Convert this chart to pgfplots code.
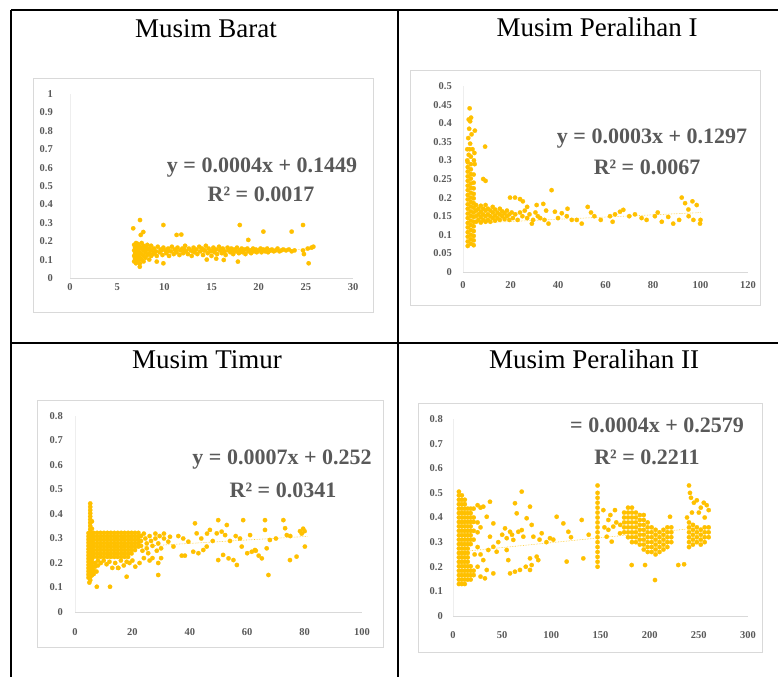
\documentclass[border=0pt]{standalone}
\usepackage{fontspec}
\setmainfont{Liberation Serif}
\usepackage{pgfplots}
\pgfplotsset{compat=1.18}

\definecolor{gold}{HTML}{FFC000}
\definecolor{lbl}{HTML}{595959}
\definecolor{frm}{HTML}{D9D9D9}

\pgfplotsset{
  panel/.style={
    scale only axis, anchor=south west, clip=false,
    enlargelimits=false, ymin=0,
    axis x line*=bottom, axis y line*=left,
    x axis line style={-, draw=frm, line width=0.7pt},
    y axis line style={-, draw=frm!45, line width=0.5pt},
    major tick length=0pt,
    tick label style={font=\fontsize{10.5}{11}\selectfont\bfseries, text=lbl},
    /pgf/number format/assume math mode=true,
    yticklabel style={/pgf/number format/fixed, /pgf/number format/precision=2, anchor=east, inner sep=0pt},
    xticklabel style={anchor=center, inner sep=0pt},
  },
  pts/.style={only marks, mark=*, mark size=2.2pt, color=gold, mark options={fill=gold, draw=gold, line width=0.2pt}},
  trend/.style={no marks, gold!85!white, densely dotted, line width=0.6pt},
}
\newcommand{\eqfont}{\fontsize{22}{24}\selectfont\bfseries\color{lbl}}
\newcommand{\ttfont}{\fontsize{27}{29}\selectfont}

\begin{document}
\begin{tikzpicture}
\useasboundingbox (0pt,0pt) rectangle (778pt,677pt);

\begin{scope}[x=1pt,y=1pt]
% chart frames
\draw[frm, line width=0.8pt] (33,599) rectangle (373,365);
\draw[frm, line width=0.8pt] (410,607) rectangle (760,372);
\draw[frm, line width=0.8pt] (37,277) rectangle (383,30);
\draw[frm, line width=0.8pt] (418,274) rectangle (762,25);
\end{scope}

% Musim Barat
\begin{axis}[panel, at={(70pt,399pt)}, width=283pt, height=184pt,
  xmin=0, xmax=30, ymax=1, xtick={0,5,...,30}, ytick={0,0.1,...,1},
  yticklabel style={xshift=-17pt}, xticklabel style={yshift=-9pt}]
\addplot[pts] coordinates {
(6.8,0.09)(6.8,0.12)(6.8,0.15)(6.8,0.18)(6.9,0.105)(6.9,0.135)(6.9,0.165)(7.0,0.08)(7.0,0.11)(7.0,0.14)(7.0,0.17)(7.0,0.19)
(7.2,0.095)(7.2,0.125)(7.2,0.155)(7.2,0.185)(7.4,0.08)(7.4,0.11)(7.4,0.14)(7.4,0.17)(7.6,0.1)(7.6,0.13)(7.6,0.16)(7.6,0.19)
(7.8,0.09)(7.8,0.12)(7.8,0.15)(7.8,0.175)(8.0,0.11)(8.0,0.14)(8.0,0.165)(8.2,0.125)(8.2,0.155)(8.2,0.18)(8.4,0.1)(8.4,0.135)
(8.4,0.16)(8.6,0.12)(8.6,0.15)(8.6,0.175)
(8.8,0.13)(8.9,0.16)(9.1,0.145)(9.2,0.12)(9.3,0.17)(9.5,0.14)(9.6,0.155)(9.8,0.125)(9.9,0.165)(10.1,0.15)(10.2,0.135)
(10.4,0.16)(10.5,0.12)(10.7,0.145)(10.8,0.17)(11.0,0.13)(11.1,0.155)(11.3,0.14)(11.4,0.165)(11.6,0.125)(11.7,0.15)(11.9,0.16)
(12.0,0.135)(12.2,0.175)(12.3,0.145)(12.5,0.13)(12.6,0.16)(12.8,0.15)(12.9,0.12)(13.1,0.165)(13.2,0.14)(13.4,0.155)(13.5,0.13)
(13.7,0.17)(13.8,0.145)(14.0,0.16)(14.1,0.125)(14.3,0.15)(14.4,0.175)(14.6,0.135)(14.7,0.16)(14.9,0.145)(15.0,0.12)(15.2,0.165)
(15.3,0.14)(15.5,0.155)(15.6,0.13)(15.8,0.17)(15.9,0.15)(16.1,0.135)(16.2,0.16)(16.4,0.145)(16.5,0.125)(16.7,0.165)(16.8,0.15)
(17.0,0.14)(17.1,0.16)(17.3,0.13)(17.4,0.155)(17.6,0.145)(17.7,0.165)(17.9,0.135)(18.0,0.15)(18.2,0.16)(18.3,0.14)(18.5,0.155)
(18.6,0.13)(18.8,0.16)(18.9,0.145)(19.1,0.15)(19.2,0.135)(19.4,0.16)(19.5,0.145)(19.7,0.155)(19.8,0.14)(20.0,0.15)(20.2,0.16)
(20.3,0.14)(20.5,0.155)(20.7,0.145)(20.9,0.16)(21.0,0.14)(21.2,0.15)(21.4,0.155)(21.6,0.145)(21.8,0.15)(22.0,0.16)(22.2,0.145)
(22.4,0.15)(22.6,0.155)(22.9,0.15)(23.2,0.155)(23.5,0.145)(23.8,0.15)(24.7,0.15)(25.2,0.16)(25.6,0.165)(25.8,0.17)(24.8,0.13)
(9.0,0.14)(9.7,0.15)(10.3,0.145)(11.2,0.15)(12.1,0.155)(13.0,0.145)(14.2,0.15)(15.1,0.15)(16.0,0.155)(17.2,0.15)(18.4,0.15)
(19.3,0.15)(20.4,0.15)(21.3,0.15)
(7.42,0.315)(6.7,0.27)(7.77,0.25)(7.5,0.234)(9.9,0.288)(11.3,0.234)(11.8,0.236)(18.0,0.288)(20.5,0.252)(23.5,0.252)
(24.7,0.288)(18.9,0.207)(25.3,0.08)(17.8,0.089)(16.3,0.098)(9.2,0.089)(9.9,0.08)(7.4,0.061)(14.5,0.1)(15.5,0.105)
};
\addplot[trend] coordinates {(6.7,0.1476)(25.8,0.1552)};
\end{axis}

% Musim Peralihan I
\begin{axis}[panel, at={(463pt,405pt)}, width=285pt, height=186pt,
  xmin=0, xmax=120, ymax=0.5, xtick={0,20,...,120}, ytick={0,0.05,...,0.5},
  yticklabel style={xshift=-11pt}, xticklabel style={yshift=-13pt}]
\addplot[pts] coordinates {
(2.0,0.07)(2.0,0.082)(2.0,0.095)(2.0,0.107)(2.0,0.12)(2.0,0.132)(2.0,0.145)(2.0,0.157)(2.0,0.17)(2.0,0.182)(2.0,0.195)
(2.0,0.207)(2.0,0.22)(2.0,0.232)(2.0,0.245)(2.0,0.257)(2.0,0.27)(2.0,0.282)(2.0,0.295)
(3.3,0.076)(3.3,0.088)(3.3,0.1)(3.3,0.113)(3.3,0.126)(3.3,0.138)(3.3,0.151)(3.3,0.163)(3.3,0.176)(3.3,0.188)(3.3,0.2)
(3.3,0.213)(3.3,0.226)(3.3,0.238)(3.3,0.251)(3.3,0.263)(3.3,0.276)(3.3,0.29)(3.3,0.31)
(4.5,0.072)(4.5,0.085)(4.5,0.097)(4.5,0.11)(4.5,0.123)(4.5,0.135)(4.5,0.148)(4.5,0.16)(4.5,0.173)(4.5,0.185)(4.5,0.198)
(4.5,0.21)(4.5,0.225)(4.5,0.24)(4.5,0.262)
(2.4,0.315)(2.8,0.33)(3.0,0.345)(2.2,0.36)(3.6,0.37)(2.6,0.385)(3.0,0.405)(2.4,0.41)(3.4,0.415)(2.8,0.44)(4.0,0.33)
(4.6,0.3)(5.0,0.38)(4.8,0.32)(4.9,0.29)(9.3,0.337)(8.5,0.25)(9.5,0.245)(1.8,0.33)(1.8,0.3)
(5.5,0.135)(5.5,0.15)(5.5,0.165)(5.5,0.18)(6.5,0.14)(6.5,0.155)(6.5,0.17)(7.5,0.133)(7.5,0.148)(7.5,0.162)(7.5,0.178)
(8.5,0.14)(8.5,0.155)(8.5,0.17)(9.5,0.135)(9.5,0.15)(9.5,0.165)(9.5,0.18)(10.5,0.14)(10.5,0.155)(10.5,0.17)(11.5,0.135)
(11.5,0.15)(11.5,0.165)(12.5,0.145)(12.5,0.16)(12.5,0.175)(13.5,0.138)(13.5,0.152)(13.5,0.168)(14.5,0.145)(14.5,0.16)
(15.5,0.14)(15.5,0.155)(15.5,0.17)(16.5,0.15)(16.5,0.163)(17.5,0.142)(17.5,0.158)(18.5,0.15)(18.5,0.165)(19.5,0.14)
(19.5,0.155)(20.5,0.16)(21,0.145)(22,0.155)(23,0.14)(24,0.16)(25,0.15)(26,0.165)(27,0.145)(28,0.155)(29.5,0.14)
(30.5,0.16)(31.5,0.15)(32.5,0.145)
(37.3,0.22)(19.8,0.2)(21.9,0.2)(24,0.196)(25.2,0.19)(31,0.18)(33.8,0.183)(34.3,0.14)(38.7,0.162)(41.6,0.158)(43.7,0.15)
(45.8,0.14)(47.9,0.14)(50,0.13)(52.5,0.175)(53.9,0.16)(55.3,0.15)(61.9,0.15)(64,0.155)(66.1,0.162)(67.5,0.167)(72.4,0.155)
(75.2,0.145)(77.3,0.14)(80.8,0.15)(83.7,0.135)(86.4,0.148)(88.5,0.13)(92.1,0.2)(93.5,0.185)(94.9,0.168)(96.6,0.19)
(98.4,0.18)(99.8,0.13)(97,0.14)(100,0.14)(36,0.13)(40,0.145)(44,0.17)(58,0.14)(63,0.135)(70,0.15)(82,0.16)(91,0.14)
(95,0.15)(27,0.175)(29,0.13)(35,0.165)
};
\addplot[trend] coordinates {(1.5,0.1302)(100,0.1597)};
\end{axis}

% Musim Timur
\begin{axis}[panel, at={(75pt,65pt)}, width=287pt, height=196pt,
  xmin=0, xmax=100, ymax=0.8, xtick={0,20,...,100}, ytick={0,0.1,...,0.8},
  yticklabel style={xshift=-12pt}, xticklabel style={yshift=-20pt}]
\addplot[pts] coordinates {
(4.7,0.14)(4.7,0.153)(4.7,0.166)(4.7,0.179)(4.7,0.192)(4.7,0.205)(4.7,0.218)(4.7,0.231)(4.7,0.244)(4.7,0.257)(4.7,0.27)
(4.7,0.283)(4.7,0.296)(4.7,0.309)(4.7,0.322)
(5.3,0.13)(5.3,0.143)(5.3,0.156)(5.3,0.169)(5.3,0.182)(5.3,0.195)(5.3,0.208)(5.3,0.221)(5.3,0.234)(5.3,0.247)(5.3,0.26)
(5.3,0.273)(5.3,0.286)(5.3,0.299)(5.3,0.312)(5.3,0.325)(5.3,0.338)(5.3,0.351)(5.3,0.364)(5.3,0.377)(5.3,0.39)(5.3,0.403)
(5.3,0.416)(5.3,0.429)(5.3,0.443)
(5.9,0.15)(5.9,0.163)(5.9,0.176)(5.9,0.189)(5.9,0.202)(5.9,0.215)(5.9,0.228)(5.9,0.241)(5.9,0.254)(5.9,0.267)(5.9,0.28)
(5.9,0.293)(5.9,0.306)(5.9,0.319)(5.9,0.34)(5.9,0.37)
(6.5,0.225)(6.5,0.239)(6.5,0.253)(6.5,0.267)(6.5,0.281)(6.5,0.295)(6.5,0.309)(6.5,0.323)
(7.7,0.225)(7.7,0.239)(7.7,0.253)(7.7,0.267)(7.7,0.281)(7.7,0.295)(7.7,0.309)(7.7,0.323)
(8.9,0.225)(8.9,0.239)(8.9,0.253)(8.9,0.267)(8.9,0.281)(8.9,0.295)(8.9,0.309)(8.9,0.323)
(10.1,0.225)(10.1,0.239)(10.1,0.253)(10.1,0.267)(10.1,0.281)(10.1,0.295)(10.1,0.309)(10.1,0.323)
(11.3,0.225)(11.3,0.239)(11.3,0.253)(11.3,0.267)(11.3,0.281)(11.3,0.295)(11.3,0.309)(11.3,0.323)
(12.5,0.225)(12.5,0.239)(12.5,0.253)(12.5,0.267)(12.5,0.281)(12.5,0.295)(12.5,0.309)(12.5,0.323)
(13.7,0.225)(13.7,0.239)(13.7,0.253)(13.7,0.267)(13.7,0.281)(13.7,0.295)(13.7,0.309)(13.7,0.323)
(14.9,0.225)(14.9,0.239)(14.9,0.253)(14.9,0.267)(14.9,0.281)(14.9,0.295)(14.9,0.309)(14.9,0.323)
(16.1,0.225)(16.1,0.239)(16.1,0.253)(16.1,0.267)(16.1,0.281)(16.1,0.295)(16.1,0.309)(16.1,0.323)
(17.3,0.225)(17.3,0.239)(17.3,0.253)(17.3,0.267)(17.3,0.281)(17.3,0.295)(17.3,0.309)(17.3,0.323)
(18.5,0.225)(18.5,0.239)(18.5,0.253)(18.5,0.267)(18.5,0.281)(18.5,0.295)(18.5,0.309)(18.5,0.323)
(19.7,0.239)(19.7,0.253)(19.7,0.267)(19.7,0.281)(19.7,0.295)(19.7,0.309)(19.7,0.323)
(20.9,0.253)(20.9,0.267)(20.9,0.281)(20.9,0.295)(20.9,0.309)(20.9,0.323)
(22.1,0.267)(22.1,0.281)(22.1,0.295)(22.1,0.309)(22.1,0.323)
(7,0.2)(7,0.185)(8,0.21)(8,0.19)(9,0.2)(10,0.21)(11,0.195)(12,0.205)(13,0.18)(14,0.2)(15,0.18)(16,0.21)(17,0.19)
(18,0.205)(19,0.2)(20,0.21)(6.5,0.17)(6.5,0.155)(7.5,0.165)
(23,0.31)(23,0.29)(23,0.27)(23.5,0.25)(24,0.32)(24.5,0.3)(25,0.28)(25,0.26)(25.5,0.24)(26,0.31)(26.5,0.29)(27,0.27)
(27,0.22)(28,0.3)(28,0.32)(28.5,0.25)(29,0.28)(29,0.2)(29.5,0.31)(30,0.22)(30,0.26)(31,0.3)(31,0.32)(24,0.22)(22.5,0.2)
(21,0.185)(26,0.21)(29,0.151)(15.1,0.18)(18,0.144)(7.6,0.103)(12.2,0.103)(5,0.12)
(33.1,0.307)(34.3,0.267)(32.5,0.287)(37.7,0.30)(39.5,0.287)(38.3,0.23)(37.2,0.23)(41.8,0.362)(42.4,0.321)(41.2,0.246)
(43,0.24)(44.7,0.253)(45.9,0.267)(47,0.335)(49.4,0.321)(49.9,0.375)(51.1,0.328)(52.9,0.355)(52.3,0.314)(49.9,0.212)
(51.6,0.233)(53.5,0.219)(55.2,0.212)(56.4,0.192)(57.5,0.30)(58.6,0.375)(58.1,0.267)(61,0.314)(61.6,0.246)(62.7,0.253)
(66.2,0.375)(66.2,0.335)(65.1,0.219)(66.8,0.26)(67.9,0.294)(67.4,0.151)(72.6,0.375)(73.2,0.342)(73.8,0.314)(74.9,0.212)
(77.2,0.226)(78.4,0.33)(79.5,0.34)(80.1,0.267)(80,0.33)(79,0.32)(36,0.31)(44,0.3)(46,0.32)(48,0.29)(54,0.29)(56,0.31)
(60,0.24)(63,0.25)(64,0.23)(70,0.3)(75,0.31)
};
\addplot[trend] coordinates {(4,0.2548)(81,0.3087)};
\end{axis}

% Musim Peralihan II
\begin{axis}[panel, at={(453pt,61pt)}, width=295pt, height=197pt,
  xmin=0, xmax=300, ymax=0.8, xtick={0,50,...,300}, ytick={0,0.1,...,0.8},
  yticklabel style={xshift=-10pt}, xticklabel style={yshift=-19pt}]
\addplot[pts] coordinates {
(6,0.13)(6,0.148)(6,0.166)(6,0.184)(6,0.202)(6,0.22)(6,0.238)(6,0.256)(6,0.274)(6,0.292)(6,0.31)(6,0.328)(6,0.346)
(6,0.364)(6,0.382)(6,0.4)(6,0.418)(6,0.436)(6,0.454)(6,0.472)(6,0.49)(6,0.505)
(9,0.13)(9,0.148)(9,0.166)(9,0.184)(9,0.202)(9,0.22)(9,0.238)(9,0.256)(9,0.274)(9,0.292)(9,0.31)(9,0.328)(9,0.346)
(9,0.364)(9,0.382)(9,0.4)(9,0.418)(9,0.436)(9,0.454)(9,0.472)(9,0.49)
(12,0.13)(12,0.148)(12,0.166)(12,0.184)(12,0.202)(12,0.22)(12,0.238)(12,0.256)(12,0.274)(12,0.292)(12,0.31)(12,0.328)
(12,0.346)(12,0.364)(12,0.382)(12,0.4)(12,0.418)(12,0.436)(12,0.454)(12,0.472)
(15,0.148)(15,0.166)(15,0.184)(15,0.202)(15,0.22)(15,0.238)(15,0.256)(15,0.274)(15,0.292)(15,0.31)(15,0.328)(15,0.346)
(15,0.364)(15,0.382)(15,0.4)(15,0.418)(15,0.436)
(18,0.148)(18,0.166)(18,0.184)(18,0.202)(18,0.292)(18,0.31)(18,0.328)(18,0.346)(18,0.364)(18,0.382)(18,0.4)(18,0.418)
(18,0.436)(21,0.166)(21,0.184)(21,0.31)(21,0.346)(21,0.382)(21,0.4)(21,0.436)(25,0.2)(25,0.34)(25,0.38)(25,0.45)
(28,0.16)(28,0.36)(28,0.44)
(37.6,0.464)(30.8,0.444)(34.3,0.403)(41,0.376)(69.9,0.505)(63,0.458)(64.8,0.417)(78.3,0.444)(74.9,0.397)(80,0.37)
(52.9,0.356)(58,0.342)(54.6,0.316)(61.3,0.309)(66.4,0.342)(69.9,0.349)(71.5,0.322)(37.6,0.322)(41,0.281)(35.9,0.268)
(44.4,0.261)(30.8,0.227)(34.3,0.187)(41,0.173)(32.5,0.153)(54.6,0.268)(56.2,0.227)(58,0.173)(63,0.18)(68.1,0.187)
(78.3,0.234)(80,0.207)(78.3,0.187)(85.1,0.241)(86.7,0.227)(81.7,0.322)(90.2,0.336)(98.6,0.316)(105.4,0.403)(112.2,0.376)
(117.3,0.342)(130.9,0.39)(132.5,0.234)(115.6,0.221)(46,0.3)(50,0.33)(60,0.33)(74,0.2)(88,0.31)(95,0.3)(102,0.31)
(120,0.32)(138,0.33)(25,0.28)(28,0.25)(22,0.25)
(147,0.2)(147,0.22)(147,0.24)(147,0.26)(147,0.28)(147,0.3)(147,0.32)(147,0.34)(147,0.36)(147,0.38)(147,0.4)(147,0.42)
(147,0.44)(147,0.46)(147,0.48)(147,0.5)(147,0.53)
(152.9,0.43)(158,0.39)(163,0.363)(156.3,0.322)(164.7,0.43)(161.4,0.302)(169.8,0.336)(154,0.36)(160,0.41)(166,0.38)
(170,0.37)(158,0.35)
(174,0.34)(174,0.36)(174,0.38)(174,0.4)(174,0.42)
(178,0.32)(178,0.34)(178,0.36)(178,0.38)(178,0.4)(178,0.42)(178,0.44)
(182,0.3)(182,0.32)(182,0.34)(182,0.36)(182,0.38)(182,0.4)(182,0.42)(182,0.44)
(186,0.3)(186,0.32)(186,0.34)(186,0.36)(186,0.38)(186,0.4)(186,0.42)
(190,0.29)(190,0.31)(190,0.33)(190,0.35)(190,0.37)(190,0.39)(190,0.41)
(194,0.27)(194,0.29)(194,0.31)(194,0.33)(194,0.35)(194,0.37)(194,0.39)(194,0.41)
(198,0.26)(198,0.28)(198,0.3)(198,0.32)(198,0.34)(198,0.36)(198,0.38)
(202,0.26)(202,0.28)(202,0.3)(202,0.32)(202,0.34)(202,0.36)
(206,0.25)(206,0.27)(206,0.29)(206,0.31)(206,0.33)(206,0.35)
(210,0.26)(210,0.28)(210,0.3)(210,0.32)(210,0.34)
(214,0.27)(214,0.29)(214,0.31)(214,0.33)(214,0.35)
(218,0.28)(218,0.3)(218,0.32)(218,0.34)(218,0.36)
(222,0.3)(222,0.32)(222,0.34)(222,0.36)
(240,0.28)(240,0.3)(240,0.32)(240,0.34)(240,0.36)(240,0.38)
(244,0.29)(244,0.31)(244,0.33)(244,0.35)(244,0.37)
(248,0.3)(248,0.32)(248,0.34)(248,0.36)
(252,0.29)(252,0.31)(252,0.33)(252,0.35)
(256,0.3)(256,0.32)(256,0.34)(256,0.36)
(260,0.32)(260,0.34)(260,0.36)
(240,0.53)(241,0.5)(242,0.48)(245,0.46)(248,0.47)(252,0.44)(255,0.46)(258,0.45)(250,0.42)(243,0.42)(260,0.43)
(256,0.4)(238,0.4)(235,0.21)(229.1,0.207)(205.4,0.146)(181.7,0.207)(195.3,0.207)(220.7,0.403)
};
\addplot[trend] coordinates {(5,0.2599)(260,0.3619)};
\end{axis}

\begin{scope}[x=1pt,y=1pt]
% table rules
\draw[black, line width=1.4pt] (11,667) -- (778,667);
\draw[black, line width=1.4pt] (11,667) -- (11,0);
\draw[black, line width=1.4pt] (398,667) -- (398,0);
\draw[black, line width=1.4pt] (11,334) -- (778,334);

% titles
\node[anchor=base] at (206,639) {\ttfont Musim Barat};
\node[anchor=base] at (597,640) {\ttfont Musim Peralihan I};
\node[anchor=base] at (207,308) {\ttfont Musim Timur};
\node[anchor=base] at (594,308) {\ttfont Musim Peralihan II};

% trendline equations
\node[anchor=base] at (262,504) {\eqfont y = 0.0004x + 0.1449};
\node[anchor=base] at (261,475) {\eqfont R² = 0.0017};
\node[anchor=base] at (652,533) {\eqfont y = 0.0003x + 0.1297};
\node[anchor=base] at (647,502) {\eqfont R² = 0.0067};
\node[anchor=base] at (282,212) {\eqfont y = 0.0007x + 0.252};
\node[anchor=base] at (283,179) {\eqfont R² = 0.0341};
\node[anchor=base] at (657,244) {\eqfont = 0.0004x + 0.2579};
\node[anchor=base] at (647,212) {\eqfont R² = 0.2211};
\end{scope}
\end{tikzpicture}
\end{document}
